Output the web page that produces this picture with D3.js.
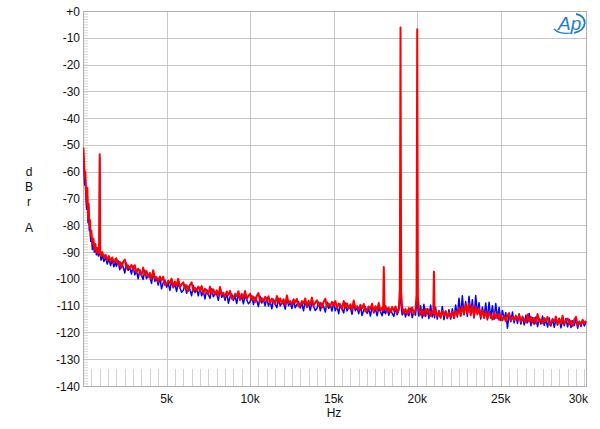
<!DOCTYPE html>
<html><head><meta charset="utf-8">
<script src="https://cdn.jsdelivr.net/npm/d3@7"></script>
<style>body{margin:0;background:#fff}svg{display:block}text{font-family:Arial,"Liberation Sans",sans-serif}</style>
</head><body><svg id="c" width="600" height="429"></svg>
<script>
// Frequency bins (Hz)
const freqHz = [
 20,60,100,140,180,220,260,300,340,380,
 420,460,500,560,620,680,740,800,860,920,
 970,1000,1030,1080,1150,1250,1350,1450,1550,1650,
 1750,1850,1950,
 2000,2100,2200,2300,2400,2500,2600,2700,2800,2900,
 3000,3100,3200,3300,3400,3500,3600,3700,3800,3900,
 4000,4100,4200,4300,4400,4500,4600,4700,4800,4900,
 5000,5100,5200,5300,5400,5500,5600,5700,5800,5900,
 6000,6100,6200,6300,6400,6500,6600,6700,6800,6900,
 7000,7100,7200,7300,7400,7500,7600,7700,7800,7900,
 8000,8100,8200,8300,8400,8500,8600,8700,8800,8900,
 9000,9100,9200,9300,9400,9500,9600,9700,9800,9900,
 10000,10100,10200,10300,10400,10500,10600,10700,10800,10900,
 11000,11100,11200,11300,11400,11500,11600,11700,11800,11900,
 12000,12100,12200,12300,12400,12500,12600,12700,12800,12900,
 13000,13100,13200,13300,13400,13500,13600,13700,13800,13900,
 14000,14100,14200,14300,14400,14500,14600,14700,14800,14900,
 15000,15100,15200,15300,15400,15500,15600,15700,15800,15900,
 16000,16100,16200,16300,16400,16500,16600,16700,16800,16900,
 17000,17100,17200,17300,17400,17500,17600,17700,17800,17900,
 17960,18000,18040,18100,18200,18300,18400,18500,18600,18700,18800,18900,
 18960,19000,19040,19100,19200,19300,19400,19500,19600,19700,19800,19900,
 19960,20000,20040,20100,20200,20300,20400,20500,20600,20700,20800,20900,
 20960,21000,21040,21100,21200,21300,21400,21500,21600,21700,21800,21900,
 22000,22100,22200,22300,22400,22500,22600,22700,22800,22900,
 23000,23100,23200,23300,23400,23500,23600,23700,23800,23900,
 24000,24100,24200,24300,24400,24500,24600,24700,24800,24900,
 25000,25100,25200,25300,25400,25500,25600,25700,25800,25900,
 26000,26100,26200,26300,26400,26500,26600,26700,26800,26900,
 27000,27100,27200,27300,27400,27500,27600,27700,27800,27900,
 28000,28100,28200,28300,28400,28500,28600,28700,28800,28900,
 29000,29100,29200,29300,29400,29500,29600,29700,29800,29900,
 30000,30100
];
// Blue trace (dBrA)
const blueDb = [
 -52,-60,-65,-63,-70,-74,-69,-79,-75,-82,
 -80,-86,-84,-89,-86,-90,-88,-91,-89,-91.5,
 -90,-55,-91,-93,-91,-93.5,-92,-94.5,-92.5,-95,
 -93,-95.5,-93.5,
 -95.3,-93.2,-96.6,-94.1,-95.5,-97.8,-94.1,-96.8,-95.7,-98.2,
 -95.2,-98.5,-97.0,-100.0,-96.6,-98.6,-100.2,-96.8,-99.9,-98.9,
 -99.2,-101.7,-97.8,-100.9,-99.8,-102.3,-99.5,-103.7,-101.4,-100.5,
 -103.1,-101.6,-104.3,-100.8,-103.3,-102.0,-104.7,-101.7,-103.4,-105.0,
 -104.3,-102.1,-105.4,-102.8,-104.1,-106.3,-102.5,-105.1,-103.9,-106.3,
 -103.2,-106.3,-104.7,-107.5,-104.0,-105.8,-107.3,-103.7,-106.7,-105.5,
 -105.7,-108.0,-103.9,-106.9,-105.7,-108.0,-105.1,-109.1,-106.7,-105.6,
 -108.1,-106.5,-109.2,-105.5,-108.0,-106.6,-109.3,-106.2,-107.8,-109.3,
 -108.6,-106.3,-109.6,-106.9,-108.2,-110.3,-106.5,-109.0,-107.8,-110.1,
 -107.0,-110.1,-108.4,-111.2,-107.6,-109.4,-110.8,-107.2,-110.1,-108.9,
 -109.0,-111.3,-107.2,-110.0,-108.8,-111.1,-108.1,-110.8,-109.5,-108.5,
 -110.9,-109.2,-111.9,-108.2,-110.7,-109.2,-111.8,-108.7,-110.3,-111.8,
 -111.0,-108.6,-111.9,-109.1,-110.4,-112.4,-108.6,-111.0,-109.7,-112.0,
 -108.8,-111.9,-110.2,-113.0,-109.4,-111.2,-112.7,-109.0,-112.0,-110.7,
 -110.9,-113.2,-109.1,-111.9,-110.7,-113.0,-110.0,-113.7,-111.6,-110.4,
 -112.9,-111.2,-113.9,-110.2,-112.7,-111.2,-113.8,-110.7,-112.3,-113.8,
 -111.5,-112.6,-110.8,-113.0,-110.9,-113.6,-111.3,-112.9,-114.0,-111.0,-113.4,-111.7,
 -108.0,-101.8,-110.0,-113.5,-111.4,-114.2,-111.9,-113.8,-111.0,-114.5,-112.2,-113.6,
 -109.0,-104.0,-111.0,-113.9,-110.0,-114.6,-109.5,-114.0,-111.2,-114.8,-109.8,-114.2,
 -113.0,-111.0,-114.5,-110.6,-115.0,-111.8,-114.6,-110.3,-115.2,-112.0,-114.8,-111.5,
 -115.0,-111.2,-114.7,-109.8,-114.2,-107.2,-113.9,-106.3,-113.5,-108.5,
 -114.0,-106.5,-112.8,-107.8,-114.6,-106.2,-113.0,-108.9,-115.0,-110.5,
 -114.4,-109.0,-115.3,-108.7,-114.6,-110.0,-115.1,-109.2,-114.8,-110.6,
 -115.5,-111.8,-114.9,-112.6,-118.4,-113.0,-116.0,-112.4,-116.4,-113.6,
 -116.6,-113.0,-116.9,-114.0,-117.2,-113.6,-116.4,-112.9,-117.5,-114.4,
 -117.0,-114.2,-117.8,-114.8,-116.9,-113.9,-117.4,-115.0,-118.0,-114.6,
 -117.6,-114.9,-118.1,-115.3,-117.0,-114.7,-118.3,-115.5,-117.5,-114.8,
 -117.9,-115.1,-118.2,-115.6,-117.4,-115.0,-118.4,-115.8,-117.8,-115.4,
 -117.6,-116.2
];
// Red trace (dBrA)
const redDb = [
 -51,-56,-62,-60,-67,-72,-66,-77,-72,-80,
 -78,-84,-82,-87,-85,-89,-87,-90,-88.5,-90.5,
 -89,-53.5,-90,-91.5,-90,-92,-91,-93,-91.5,-93.5,
 -92,-94,-92.5,
 -92.3,-94.7,-93.6,-95.8,-93.7,-92.8,-96.1,-95.0,-96.1,-94.8,
 -96.4,-94.9,-97.7,-96.2,-97.2,-98.7,-95.8,-98.5,-97.1,-99.3,
 -97.8,-100.1,-96.8,-99.8,-99.3,-101.0,-99.1,-100.6,-99.2,-102.3,
 -102.0,-100.7,-101.6,-99.9,-103.0,-101.0,-102.5,-100.0,-103.1,-102.0,
 -101.3,-103.6,-102.4,-104.5,-102.3,-101.3,-104.5,-103.3,-104.3,-102.9,
 -104.4,-102.7,-105.4,-103.7,-104.6,-105.9,-102.9,-105.4,-103.9,-105.9,
 -104.3,-106.4,-103.0,-105.8,-105.2,-106.7,-104.7,-106.0,-104.5,-107.4,
 -107.0,-105.6,-106.5,-104.6,-107.7,-105.6,-107.1,-104.5,-107.5,-106.3,
 -105.6,-107.8,-106.6,-108.6,-106.4,-105.3,-108.5,-107.2,-108.2,-106.7,
 -108.2,-106.5,-109.1,-107.4,-108.2,-109.5,-106.4,-108.9,-107.3,-109.3,
 -107.6,-109.7,-106.2,-109.0,-108.3,-109.6,-107.6,-108.9,-107.5,-110.3,
 -109.8,-108.3,-109.2,-107.3,-110.4,-108.2,-109.6,-107.0,-110.0,-108.8,
 -108.0,-110.1,-108.9,-110.7,-108.6,-107.4,-110.4,-109.2,-110.1,-108.6,
 -110.0,-108.3,-110.9,-109.2,-110.0,-111.3,-108.3,-110.7,-109.2,-111.1,
 -109.5,-111.6,-108.1,-110.9,-110.2,-111.7,-109.7,-110.9,-109.4,-112.2,
 -111.8,-110.3,-111.2,-109.3,-112.4,-110.2,-111.6,-109.0,-112.0,-110.8,
 -111.6,-95.6,-111.0,-110.1,-112.3,-110.8,-112.5,-110.5,-111.9,-110.3,-112.6,-111.0,
 -104.0,-6.2,-105.0,-110.6,-112.9,-111.3,-113.2,-110.9,-112.4,-110.7,-113.1,-111.6,
 -106.0,-6.8,-107.0,-111.3,-113.4,-111.6,-113.8,-111.2,-113.0,-111.4,-113.9,-112.2,
 -112.8,-97.3,-113.4,-111.9,-114.0,-112.3,-114.4,-112.0,-113.6,-112.1,-114.5,-112.6,
 -114.2,-112.4,-114.6,-112.0,-113.5,-110.9,-113.8,-110.2,-113.0,-109.6,
 -112.8,-109.3,-113.6,-110.0,-114.0,-110.4,-113.2,-111.0,-114.3,-111.8,
 -114.6,-112.2,-114.9,-112.7,-113.8,-115.2,-112.5,-114.6,-113.0,-115.3,
 -113.4,-115.5,-113.9,-115.8,-113.6,-112.8,-115.7,-114.3,-115.4,-113.9,
 -115.2,-113.4,-116.0,-114.3,-115.1,-116.3,-113.3,-115.8,-114.2,-116.3,
 -114.6,-116.6,-113.1,-115.9,-115.2,-116.6,-114.6,-115.9,-114.2,-117.1,
 -116.6,-115.1,-116.0,-114.1,-117.2,-115.0,-116.5,-113.8,-116.9,-115.6,
 -114.8,-117.0,-115.7,-117.6,-115.3,-114.2,-117.4,-116.0,-116.9,-115.3,
 -116.7,-115.6
];
const yTicks = [0,-10,-20,-30,-40,-50,-60,-70,-80,-90,-100,-110,-120,-130,-140];
const yTickLabels = ["+0","-10","-20","-30","-40","-50","-60","-70","-80","-90","-100","-110","-120","-130","-140"];
const xTicks = [5000,10000,15000,20000,25000,30000];
const xTickLabels = ["5k","10k","15k","20k","25k","30k"];

if (freqHz.length !== blueDb.length || freqHz.length !== redDb.length)
  console.error("length mismatch", freqHz.length, blueDb.length, redDb.length);

const L=83, R=586, T=11, B=386;
const x = d3.scaleLinear().domain([0,30100]).range([L,R]);
const y = d3.scaleLinear().domain([-140,0]).range([B,T]);
const svg = d3.select("#c");

// minor y ticks (1 dB)
svg.append("g").selectAll("line").data(d3.range(-140,1,1)).join("line")
  .attr("x1",L).attr("x2",L+5).attr("y1",d=>y(d)+0.5).attr("y2",d=>y(d)+0.5)
  .attr("stroke","#d4d4d4").attr("stroke-width",1);
// minor x ticks (500 Hz)
svg.append("g").selectAll("line").data(d3.range(500,30001,500)).join("line")
  .attr("x1",d=>Math.round(x(d))+0.5).attr("x2",d=>Math.round(x(d))+0.5).attr("y1",B-17).attr("y2",B)
  .attr("stroke","#d0d0d0").attr("stroke-width",1);
// grid
svg.append("g").selectAll("line").data(yTicks.slice(1,-1)).join("line")
  .attr("x1",L).attr("x2",R).attr("y1",d=>Math.round(y(d))+0.5).attr("y2",d=>Math.round(y(d))+0.5)
  .attr("stroke","#c6c6c6").attr("stroke-width",1);
svg.append("g").selectAll("line").data(xTicks.slice(0,-1)).join("line")
  .attr("x1",d=>Math.round(x(d))+0.5).attr("x2",d=>Math.round(x(d))+0.5).attr("y1",T).attr("y2",B)
  .attr("stroke","#c6c6c6").attr("stroke-width",1);
// border
svg.append("rect").attr("x",L+0.5).attr("y",T+0.5).attr("width",R-L).attr("height",B-T)
  .attr("fill","none").attr("stroke","#b0b0b0").attr("stroke-width",1);

// y labels
svg.append("g").selectAll("text").data(yTicks).join("text")
  .attr("x",L-3).attr("y",d=>y(d)+4.5).attr("text-anchor","end")
  .attr("font-size",12).attr("fill","#111").text((d,i)=>yTickLabels[i]);
// x labels
svg.append("g").selectAll("text").data(xTicks).join("text")
  .attr("x",(d,i)=> i===xTicks.length-1 ? R+2 : x(d)).attr("y",403)
  .attr("text-anchor",(d,i)=> i===xTicks.length-1 ? "end":"middle")
  .attr("font-size",12).attr("fill","#111").text((d,i)=>xTickLabels[i]);
// axis titles
svg.append("text").attr("x",334).attr("y",417).attr("text-anchor","middle").attr("font-size",12).attr("fill","#111").text("Hz");
const yt = [["d",176],["B",191],["r",206],["A",232]];
svg.append("g").selectAll("text").data(yt).join("text").attr("x",29).attr("y",d=>d[1])
  .attr("text-anchor","middle").attr("font-size",12).attr("fill","#111").text(d=>d[0]);

// traces
svg.append("clipPath").attr("id","clip").append("rect").attr("x",L).attr("y",T).attr("width",R-L+1).attr("height",B-T);
const pts = (vals)=>freqHz.map((f,i)=>[f,vals[i]]);
const line = d3.line().x(d=>x(d[0])).y(d=>y(d[1]));
const g = svg.append("g").attr("clip-path","url(#clip)");
g.append("path").attr("d",line(pts(blueDb))).attr("fill","none").attr("stroke","#0000ff").attr("stroke-width",1.5).attr("stroke-linejoin","round");
g.append("path").attr("d",line(pts(redDb))).attr("fill","none").attr("stroke","#ff0000").attr("stroke-width",2).attr("stroke-linejoin","round");

// AP logo
const lg = svg.append("g");
lg.append("text").attr("x",558).attr("y",30).attr("font-size",19).attr("font-style","italic")
  .attr("fill","#1f7fc6").text("Ap");
lg.append("path").attr("d","M576,14 C588,16 588,30 574,33").attr("fill","none").attr("stroke","#1f7fc6").attr("stroke-width",1.8);
lg.append("path").attr("d","M554,29 C558,33 565,34 572,33").attr("fill","none").attr("stroke","#1f7fc6").attr("stroke-width",1.2);
</script></body></html>
